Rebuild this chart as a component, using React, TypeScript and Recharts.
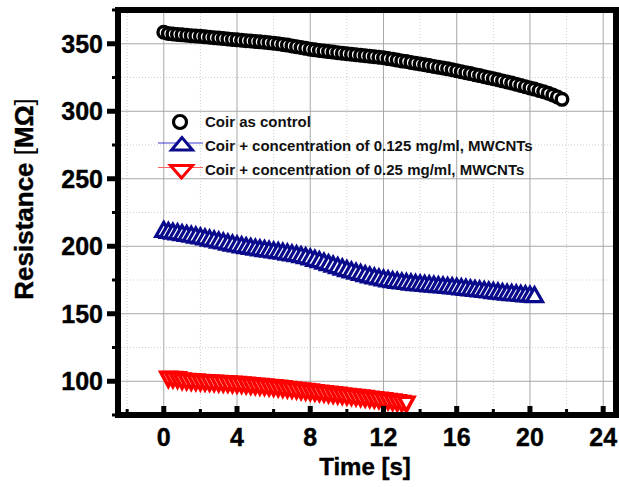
import { CartesianGrid, Scatter, ScatterChart, XAxis, YAxis } from "recharts";

// shared time base, 0.25 s sampling
const TIME = [
  0, 0.25, 0.5, 0.75, 1, 1.25, 1.5, 1.75, 2, 2.25, 2.5, 2.75, 3, 3.25, 3.5, 3.75,
  4, 4.25, 4.5, 4.75, 5, 5.25, 5.5, 5.75, 6, 6.25, 6.5, 6.75, 7, 7.25, 7.5, 7.75,
  8, 8.25, 8.5, 8.75, 9, 9.25, 9.5, 9.75, 10, 10.25, 10.5, 10.75, 11, 11.25, 11.5, 11.75,
  12, 12.25, 12.5, 12.75, 13, 13.25, 13.5, 13.75, 14, 14.25, 14.5, 14.75, 15, 15.25, 15.5, 15.75,
  16, 16.25, 16.5, 16.75, 17, 17.25, 17.5, 17.75, 18, 18.25, 18.5, 18.75, 19, 19.25, 19.5, 19.75,
  20, 20.25, 20.5, 20.75, 21, 21.25, 21.5, 21.75,
];

// Coir as control (starts at TIME[0])
const CONTROL = [
  358.5, 357.6, 357.2, 356.9, 356.6, 356.3, 356.0, 355.8, 355.5, 355.1, 354.8, 354.5, 354.2, 353.9, 353.5, 353.2,
  352.9, 352.6, 352.3, 352.0, 351.7, 351.4, 351.1, 350.8, 350.4, 350.0, 349.5, 349.0, 348.4, 347.8, 347.2, 346.6,
  346.0, 345.5, 345.0, 344.6, 344.2, 343.8, 343.4, 343.0, 342.6, 342.2, 341.9, 341.5, 341.2, 340.8, 340.4, 340.0,
  339.6, 339.0, 338.5, 337.9, 337.3, 336.8, 336.2, 335.6, 335.0, 334.4, 333.8, 333.2, 332.6, 332.0, 331.4, 330.7,
  330.0, 329.3, 328.6, 327.9, 327.1, 326.4, 325.6, 324.9, 324.1, 323.3, 322.5, 321.7, 320.9, 320.0, 319.1, 318.2,
  317.3, 316.4, 315.4, 314.4, 313.3, 312.0, 310.6, 308.8,
];

// Coir + 0.125 mg/ml MWCNTs (starts at TIME[0])
const MWCNT_0125 = [
  211.0, 210.2, 209.7, 209.2, 208.6, 208.0, 207.4, 206.8, 206.1, 205.4, 204.6, 203.9, 203.1, 202.4, 201.6, 200.9,
  200.2, 199.6, 199.0, 198.4, 197.8, 197.3, 196.8, 196.3, 195.8, 195.3, 194.8, 194.2, 193.6, 193.0, 192.3, 191.5,
  190.6, 189.6, 188.6, 187.5, 186.4, 185.3, 184.2, 183.1, 182.0, 181.0, 180.0, 179.1, 178.2, 177.3, 176.5, 175.8,
  175.0, 174.4, 173.8, 173.3, 172.8, 172.4, 172.0, 171.6, 171.3, 171.0, 170.7, 170.4, 170.1, 169.8, 169.5, 169.2,
  168.9, 168.5, 168.1, 167.7, 167.3, 166.9, 166.5, 166.1, 165.7, 165.3, 164.9, 164.5, 164.2, 163.9, 163.6, 163.3,
  163.0, 162.7,
];

// Coir + 0.25 mg/ml MWCNTs (starts at TIME[1])
const MWCNT_025 = [
  103.0, 102.8, 102.5, 101.6, 101.3, 101.0, 100.8, 100.6, 100.4, 100.2, 100.0, 99.8, 99.6, 99.4, 99.2,
  99.0, 98.7, 98.4, 98.1, 97.8, 97.5, 97.2, 96.9, 96.6, 96.2, 95.8, 95.4, 95.0, 94.6, 94.2, 93.8,
  93.4, 93.0, 92.6, 92.2, 91.8, 91.4, 91.0, 90.6, 90.2, 89.8, 89.4, 89.0, 88.6, 88.2, 87.8, 87.4,
  87.0, 86.5, 86.0, 85.5, 85.0, 84.5,
];

const X_MAJOR = [0, 4, 8, 12, 16, 20, 24];
const X_MINOR = [-2, 2, 6, 10, 14, 18, 22];
const Y_MAJOR = [100, 150, 200, 250, 300, 350];
const Y_MINOR = [75, 125, 175, 225, 275, 325, 375];
const LEGEND = [
  "Coir as control",
  "Coir + concentration of 0.125 mg/ml, MWCNTs",
  "Coir + concentration of 0.25 mg/ml, MWCNTs",
];

const FONT = '"Liberation Sans", Arial, sans-serif';
const BLUE = "#0a0a8c";
const RED = "#ff0000";

const X_TICKS = [...X_MAJOR, ...X_MINOR].sort((a, b) => a - b);
const Y_TICKS = [...Y_MAJOR, ...Y_MINOR].sort((a, b) => a - b);

const controlData = CONTROL.map((v, i) => ({ t: TIME[i], v }));
const lowData = MWCNT_0125.map((v, i) => ({ t: TIME[i], v }));
const highData = MWCNT_025.map((v, i) => ({ t: TIME[i + 1], v }));

type TickProps = { x?: number; y?: number; payload?: { value: number } };

// tick marks are drawn as filled rects so their weight does not depend on stroke props
function LeftTick({ x = 0, y = 0, payload }: TickProps) {
  const major = Y_MAJOR.includes(payload?.value as number);
  const len = major ? 11 : 6;
  const w = major ? 5 : 3;
  return (
    <g>
      <rect x={x - len} y={y - w / 2} width={len} height={w} fill="#000" />
      {major && (
        <text
          x={x - 15}
          y={y}
          dy="0.36em"
          textAnchor="end"
          fontFamily={FONT}
          fontWeight="bold"
          fontSize={25}
          fill="#000"
          stroke="#000"
          strokeWidth={0.4}
        >
          {payload?.value}
        </text>
      )}
    </g>
  );
}

function RightTick({ x = 0, y = 0, payload }: TickProps) {
  const major = Y_MAJOR.includes(payload?.value as number);
  const len = major ? 9 : 6;
  const w = major ? 5 : 3;
  return <rect x={x - len} y={y - w / 2} width={len} height={w} fill="#000" />;
}

function BottomTick({ x = 0, y = 0, payload }: TickProps) {
  const major = X_MAJOR.includes(payload?.value as number);
  const len = major ? 9 : 6;
  const w = major ? 5 : 3;
  return (
    <g>
      <rect x={x - w / 2} y={y - len} width={w} height={len} fill="#000" />
      {major && (
        <text
          x={x}
          y={y + 31}
          textAnchor="middle"
          fontFamily={FONT}
          fontWeight="bold"
          fontSize={25}
          fill="#000"
          stroke="#000"
          strokeWidth={0.4}
        >
          {payload?.value}
        </text>
      )}
    </g>
  );
}

function TopTick({ x = 0, y = 0, payload }: TickProps) {
  const major = X_MAJOR.includes(payload?.value as number);
  const len = major ? 9 : 6;
  const w = major ? 5 : 3;
  return <rect x={x - w / 2} y={y} width={w} height={len} fill="#000" />;
}

type ShapeProps = { cx?: number; cy?: number };

const circleShape = ({ cx = 0, cy = 0 }: ShapeProps) => (
  <circle cx={cx} cy={cy} r={5.8} fill="#fff" stroke="#000" strokeWidth={3.4} />
);

const upShape = ({ cx = 0, cy = 0 }: ShapeProps) => (
  <polygon
    points={`${cx},${cy - 9} ${cx - 8},${cy + 5} ${cx + 8},${cy + 5}`}
    fill="#fff"
    stroke={BLUE}
    strokeWidth={3.2}
  />
);

const downShape = ({ cx = 0, cy = 0 }: ShapeProps) => (
  <polygon
    points={`${cx - 7.5},${cy - 5} ${cx + 7.5},${cy - 5} ${cx},${cy + 9}`}
    fill="#fff"
    stroke={RED}
    strokeWidth={3.6}
  />
);

export default function App() {
  return (
    <div style={{ position: "absolute", left: 0, top: 0, width: 619, height: 487, background: "#fff" }}>
      <ScatterChart width={619} height={487} margin={{ top: 10, right: 3, bottom: 0, left: 0 }}>
        <CartesianGrid horizontalValues={Y_MINOR} verticalValues={X_MINOR} stroke="#cfcfcf" strokeDasharray="1 2" />
        <CartesianGrid horizontalValues={Y_MAJOR} verticalValues={X_MAJOR} stroke="#a8a8a8" strokeWidth={1} />
        <XAxis
          dataKey="t"
          type="number"
          domain={[-2.5, 24.7]}
          allowDataOverflow
          ticks={X_TICKS}
          interval={0}
          height={72}
          tickSize={0}
          tickMargin={0}
          tickLine={false}
          tick={<BottomTick />}
          axisLine={false}
        />
        <XAxis
          xAxisId="top"
          orientation="top"
          type="number"
          domain={[-2.5, 24.7]}
          allowDataOverflow
          ticks={X_TICKS}
          interval={0}
          height={0}
          tickSize={0}
          tickMargin={0}
          tickLine={false}
          tick={<TopTick />}
          axisLine={false}
        />
        <YAxis
          dataKey="v"
          type="number"
          domain={[75, 375]}
          allowDataOverflow
          ticks={Y_TICKS}
          interval={0}
          width={118}
          tickSize={0}
          tickMargin={0}
          tickLine={false}
          tick={<LeftTick />}
          axisLine={false}
        />
        <YAxis
          yAxisId="right"
          orientation="right"
          type="number"
          domain={[75, 375]}
          allowDataOverflow
          ticks={Y_TICKS}
          interval={0}
          width={0}
          tickSize={0}
          tickMargin={0}
          tickLine={false}
          tick={<RightTick />}
          axisLine={false}
        />
        <Scatter data={controlData} shape={circleShape} isAnimationActive={false} />
        <Scatter data={lowData} shape={upShape} isAnimationActive={false} />
        <Scatter data={highData} shape={downShape} isAnimationActive={false} />
      </ScatterChart>
      <svg
        width={619}
        height={487}
        style={{ position: "absolute", left: 0, top: 0, pointerEvents: "none" }}
        fontFamily={FONT}
      >
        {/* plot frame */}
        <rect x={118} y={10} width={498} height={405} fill="none" stroke="#000" strokeWidth={6} />
        <text
          transform="translate(33 199) rotate(-90)"
          textAnchor="middle"
          fontWeight="bold"
          fontSize={26}
          fill="#000"
          stroke="#000"
          strokeWidth={0.4}
        >
          Resistance <tspan fontWeight="normal" strokeWidth={0}>[</tspan>MΩ<tspan fontWeight="normal" strokeWidth={0}>]</tspan>
        </text>
        <text x={365} y={475} textAnchor="middle" fontWeight="bold" fontSize={24} fill="#000" stroke="#000" strokeWidth={0.4}>
          Time [s]
        </text>
        <circle cx={180} cy={122} r={6.5} fill="#fff" stroke="#000" strokeWidth={3.2} />
        <line x1={158} x2={203} y1={143} y2={143} stroke="#3a3ad0" strokeWidth={1} />
        <polygon points="182,137.5 171.5,150 192.5,150" fill="#fff" stroke={BLUE} strokeWidth={3} />
        <line x1={158} x2={203} y1={167.5} y2={167.5} stroke="#ff6060" strokeWidth={1} />
        <polygon points="170.5,165.5 192.5,165.5 181.5,178" fill="#fff" stroke={RED} strokeWidth={3} />
        {LEGEND.map((label, i) => (
          <text key={label} x={205} y={127 + i * 24} fontWeight="bold" fontSize={15} fill="#111">
            {label}
          </text>
        ))}
      </svg>
    </div>
  );
}
